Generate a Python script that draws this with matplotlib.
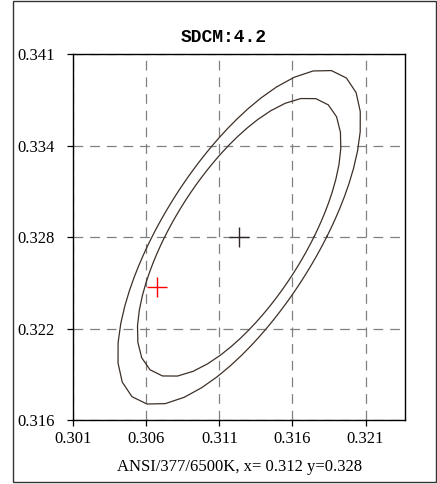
import matplotlib
matplotlib.use('Agg')
import matplotlib.pyplot as plt
import numpy as np

plt.rcParams['lines.scale_dashes'] = False

# data
title = 'SDCM:4.2'
caption = 'ANSI/377/6500K, x= 0.312 y=0.328'
center_x, center_y = 0.3123, 0.3282
test_x, test_y = 0.3067, 0.3248
ellipse_a = [0.01315, 0.01093]     # semi-major axes (outer, inner)
ellipse_b = [0.00520, 0.00445]     # semi-minor axes
ellipse_angle = 57.5               # degrees
x_half, y_half = 0.01135, 0.0125
xtick_labels = ['0.301', '0.306', '0.311', '0.316', '0.321']
ytick_labels = ['0.316', '0.322', '0.328', '0.334', '0.341']

fig = plt.figure(figsize=(4.37, 4.84), dpi=100)
ax = fig.add_axes([73.3 / 437, 1 - 420.3 / 484, 331.7 / 437, 366 / 484])

# ellipses drawn as polylines (5 degree polar steps)
phi = np.deg2rad(np.arange(1, 362, 5))
th = np.deg2rad(ellipse_angle)
for a, b in zip(ellipse_a, ellipse_b):
    r = a * b / np.sqrt((b * np.cos(phi - th)) ** 2 + (a * np.sin(phi - th)) ** 2)
    ax.plot(center_x + r * np.cos(phi), center_y + r * np.sin(phi),
            color='#3d3028', lw=0.9, zorder=3)

ax.plot(center_x, center_y, marker='+', ms=14, mew=1.0, color='#302828', zorder=4)
ax.plot(test_x, test_y, marker='+', ms=14, mew=1.0, color='#ff0000', zorder=4)

ax.set_xlim(center_x - x_half, center_x + x_half)
ax.set_ylim(center_y - y_half, center_y + y_half)
xt = np.linspace(center_x - x_half, center_x - x_half + 0.02, 5)
yt = np.linspace(center_y - y_half, center_y + y_half, 5)
ax.set_xticks(xt)
ax.set_xticklabels(xtick_labels)
ax.set_yticks(yt)
ax.set_yticklabels(ytick_labels)

ax.grid(True, color='#808080', lw=0.9, linestyle=(0, (7, 5)))
ax.tick_params(direction='out', length=4.5, width=0.9, color='black',
               labelsize=12, pad=3)
ax.tick_params(axis='y', pad=9)
for lab in ax.get_xticklabels() + ax.get_yticklabels():
    lab.set_family('Liberation Serif')
for sp in ax.spines.values():
    sp.set_linewidth(1.0)
    sp.set_color('black')

fig.text(224 / 437, 1 - 38 / 484, title, ha='center', va='center',
         family='Liberation Mono', weight='bold', fontsize=13)
fig.text(239.5 / 437, 1 - 466.7 / 484, caption, ha='center', va='center',
         family='Liberation Serif', fontsize=12)

# outer frame
frame = plt.Rectangle((13.3 / 437, 2 / 484), 422.2 / 437, 481 / 484,
                      transform=fig.transFigure, fill=False,
                      edgecolor='#333333', lw=1.0)
fig.patches.append(frame)

fig.savefig('out.png', dpi=100)
